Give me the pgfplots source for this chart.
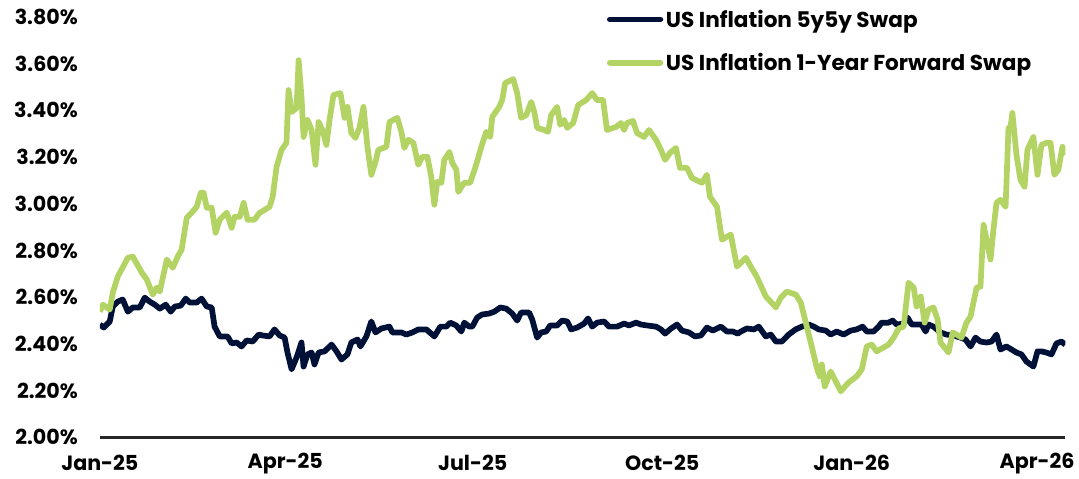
\documentclass[border=0pt]{standalone}
\usepackage{fontspec}
\setmainfont{Poppins}
\usepackage{pgfplots}
\usepackage{pgfplotstable}
\pgfplotsset{compat=1.18}
\definecolor{navy}{HTML}{001137}
\definecolor{lime}{HTML}{B3D465}
\definecolor{axisgray}{HTML}{262626}

\pgfplotstableread{
d v
0 2.483
1.9 2.470
4.8 2.496
6.3 2.560
8.7 2.581
11.1 2.590
13.6 2.538
16.0 2.556
19.4 2.556
21.8 2.598
24.2 2.581
26.7 2.568
29.1 2.551
32.0 2.568
34.4 2.538
36.4 2.560
39.3 2.564
41.7 2.594
43.6 2.577
47.0 2.577
49.4 2.594
51.9 2.560
54.3 2.556
55.7 2.474
58.2 2.432
62.0 2.432
64.0 2.402
66.4 2.406
68.8 2.389
71.3 2.415
74.2 2.410
77.1 2.440
79.0 2.436
82.4 2.432
84.8 2.462
87.3 2.436
89.7 2.427
91.1 2.363
93.1 2.291
95.5 2.342
97.9 2.406
98.9 2.303
100.8 2.355
102.8 2.363
104.2 2.312
106.2 2.363
109.1 2.368
112.5 2.397
114.9 2.368
117.3 2.333
120.2 2.355
122.1 2.406
125.1 2.419
126.5 2.389
129.4 2.432
131.8 2.496
133.8 2.449
136.7 2.466
140.6 2.474
142.0 2.449
146.4 2.449
148.8 2.440
151.7 2.449
154.6 2.462
158.5 2.462
162.4 2.432
165.3 2.474
168.2 2.474
170.1 2.491
173.0 2.479
175.5 2.453
176.9 2.491
179.3 2.474
180.8 2.474
183.2 2.513
185.6 2.526
189.0 2.530
191.5 2.538
194.4 2.556
197.3 2.551
200.2 2.530
202.6 2.500
204.5 2.534
208.4 2.534
209.9 2.504
212.3 2.427
214.2 2.449
216.7 2.453
218.6 2.479
222.0 2.479
224.4 2.500
226.9 2.496
228.8 2.462
231.7 2.470
235.1 2.487
237.0 2.509
239.0 2.474
241.4 2.491
244.8 2.496
247.2 2.474
251.1 2.474
254.5 2.487
256.9 2.479
260.3 2.491
262.7 2.483
265.6 2.479
270.0 2.474
272.4 2.462
274.4 2.444
277.3 2.466
280.2 2.483
282.6 2.457
286.0 2.449
288.9 2.432
291.8 2.436
294.7 2.470
297.6 2.457
301.5 2.474
304.4 2.453
307.3 2.453
309.7 2.444
311.2 2.453
314.1 2.466
317.5 2.462
319.9 2.474
323.3 2.432
325.7 2.440
328.2 2.410
331.1 2.410
334.4 2.440
337.8 2.462
340.8 2.474
344.2 2.483
346.6 2.474
349.0 2.462
352.4 2.457
354.8 2.440
357.7 2.453
361.1 2.440
364.5 2.457
367.4 2.462
370.3 2.474
372.3 2.453
375.6 2.453
378.1 2.474
379.5 2.491
382.9 2.491
384.9 2.500
386.8 2.483
390.2 2.487
392.1 2.513
394.1 2.483
398.9 2.483
400.9 2.453
402.3 2.483
404.7 2.474
408.1 2.449
411.0 2.440
414.4 2.436
417.8 2.427
420.2 2.419
422.7 2.389
425.1 2.427
427.5 2.410
430.4 2.406
432.9 2.410
435.3 2.440
437.2 2.376
440.1 2.389
442.6 2.376
445.0 2.363
447.4 2.355
449.8 2.325
453.2 2.303
455.2 2.368
457.1 2.368
459.5 2.363
462.0 2.355
464.4 2.402
466.8 2.410
468.7 2.397
}\fivefive

\pgfplotstableread{
d v
0 2.538
1.5 2.568
4.8 2.547
6.3 2.620
8.7 2.688
13.6 2.769
16.0 2.774
20.4 2.705
22.8 2.675
25.7 2.611
27.6 2.641
29.1 2.624
32.5 2.761
35.4 2.726
37.8 2.774
39.7 2.803
42.2 2.940
44.6 2.962
47.0 2.987
49.0 3.047
50.4 3.047
51.9 2.983
54.3 2.983
56.2 2.876
58.2 2.932
61.6 2.962
64.0 2.897
65.4 2.944
67.9 2.944
69.8 3.004
71.7 2.932
75.1 2.932
77.6 2.962
78.5 2.966
82.4 2.987
83.9 3.030
85.8 3.158
88.2 3.231
90.6 3.261
91.6 3.487
93.1 3.393
95.5 3.410
96.5 3.615
97.9 3.457
98.9 3.286
100.8 3.359
102.8 3.316
104.7 3.167
106.2 3.350
108.1 3.316
110.0 3.252
111.5 3.359
113.4 3.466
116.8 3.474
118.8 3.368
120.2 3.415
122.1 3.303
124.1 3.282
126.0 3.325
128.0 3.415
129.9 3.244
131.8 3.124
133.8 3.179
135.2 3.231
139.1 3.244
140.6 3.350
144.4 3.368
146.4 3.308
147.8 3.239
149.8 3.274
152.2 3.261
154.6 3.167
156.5 3.201
159.0 3.201
160.9 3.115
162.4 2.996
163.8 3.094
165.8 3.090
167.2 3.188
169.7 3.222
171.1 3.175
173.1 3.145
174.0 3.051
176.9 3.090
179.8 3.090
182.7 3.167
185.2 3.244
187.6 3.308
189.5 3.286
190.5 3.372
193.9 3.415
195.3 3.444
196.8 3.517
200.7 3.534
202.6 3.474
204.5 3.368
207.0 3.380
209.4 3.436
210.9 3.393
212.3 3.325
215.7 3.316
217.6 3.308
219.1 3.380
222.0 3.415
223.5 3.338
225.4 3.359
226.9 3.325
229.8 3.346
232.2 3.423
236.1 3.444
239.0 3.474
241.4 3.444
244.3 3.444
246.2 3.316
250.6 3.329
253.0 3.346
254.5 3.316
255.9 3.346
258.8 3.355
260.8 3.303
264.2 3.286
266.6 3.316
270.0 3.274
272.4 3.231
274.4 3.188
276.8 3.218
279.7 3.239
281.6 3.154
285.0 3.154
287.4 3.111
292.3 3.090
294.7 3.124
296.2 3.030
299.6 2.987
302.0 2.846
304.4 2.859
306.3 2.868
309.3 2.731
313.6 2.769
316.0 2.731
318.9 2.688
323.3 2.603
328.2 2.556
330.6 2.598
333.5 2.624
337.9 2.611
340.3 2.577
342.7 2.491
345.6 2.389
348.0 2.299
349.5 2.261
350.5 2.312
351.9 2.218
354.8 2.282
359.7 2.197
363.5 2.235
367.4 2.261
369.9 2.291
372.3 2.389
374.7 2.397
377.1 2.368
382.9 2.397
385.4 2.427
387.8 2.466
390.2 2.474
392.6 2.662
395.1 2.641
396.5 2.560
398.5 2.603
400.4 2.491
402.3 2.547
404.7 2.556
406.7 2.504
408.1 2.406
412.0 2.363
414.0 2.449
415.9 2.440
418.3 2.427
420.7 2.491
422.7 2.517
425.6 2.641
427.5 2.645
429.0 2.910
432.4 2.761
433.8 2.889
435.3 3.004
437.2 3.017
439.7 2.987
441.1 3.325
442.1 3.329
443.0 3.389
445.0 3.209
446.9 3.103
448.9 3.073
450.3 3.231
453.2 3.286
455.2 3.124
457.1 3.252
459.5 3.261
461.5 3.261
463.4 3.124
465.3 3.145
467.3 3.244
468.7 3.209
}\oneyear

\begin{document}
\begin{tikzpicture}
\begin{axis}[
  at={(0,0)}, anchor=south west,
  scale only axis,
  width=725.25pt, height=315.75pt,
  xmin=0, xmax=468.7,
  ymin=2, ymax=3.8,
  axis x line*=bottom,
  axis y line*=left,
  y axis line style={draw=none},
  x axis line style={draw=axisgray, line width=2.3pt},
  major tick length=0pt,
  xtick={0,90,181,273,365,455},
  xticklabels={Jan-25,Apr-25,Jul-25,Oct-25,Jan-26,Apr-26},
  ytick={2,2.2,2.4,2.6,2.8,3.0,3.2,3.4,3.6,3.8},
  yticklabels={2.00\%,2.20\%,2.40\%,2.60\%,2.80\%,3.00\%,3.20\%,3.40\%,3.60\%,3.80\%},
  ticklabel style={font=\fontsize{15.5}{17}\selectfont\bfseries, text=black},
  yticklabel style={anchor=east, xshift=-13pt},
  xticklabel style={anchor=center, yshift=-19.5pt},
  legend style={draw=none, fill=none, at={(0.525,1.024)}, anchor=north west,
    font=\fontsize{16.2}{18}\selectfont\bfseries, row sep=14pt, inner sep=0pt,
    /tikz/every even column/.append style={column sep=0pt}},
  legend cell align=left,
  legend image code/.code={\draw[#1, line cap=round] (0pt,0pt) -- (38pt,0pt);},
  every axis plot/.append style={line join=round},
]
\addplot[navy, line width=4.3pt] table[x=d, y=v] {\fivefive};
\addlegendentry{US Inflation 5y5y Swap}
\addplot[lime, line width=4.3pt] table[x=d, y=v] {\oneyear};
\addlegendentry{US Inflation 1-Year Forward Swap}
\end{axis}
\path[use as bounding box] (-75pt,-29.25pt) rectangle (734.25pt,328.5pt);
\end{tikzpicture}
\end{document}
